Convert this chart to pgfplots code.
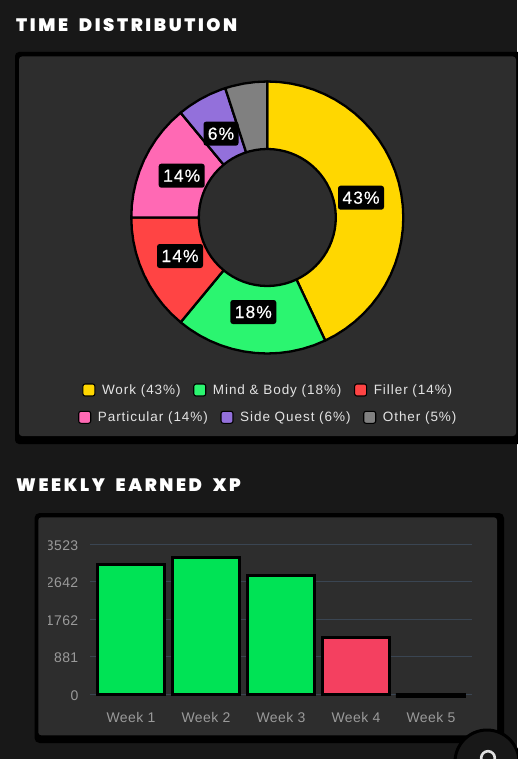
\documentclass[border=0pt]{standalone}
\usepackage{pgfplots}
\pgfplotsset{compat=1.18}
\usepackage{fontspec}
\setmainfont{Liberation Sans}
\newfontfamily\titlefont[LetterSpace=14.5,WordSpace=1.9]{Poppins Black}
\newfontfamily\legfont[LetterSpace=7]{Liberation Sans}
\newfontfamily\tickfont[LetterSpace=3]{Liberation Sans}
\newfontfamily\boxfont[LetterSpace=6,FakeBold=0.4]{Liberation Sans}
\definecolor{bg}{HTML}{181818}
\definecolor{panel}{HTML}{2D2D2D}
\definecolor{cwork}{HTML}{FFD700}
\definecolor{cmind}{HTML}{2BF570}
\definecolor{cfill}{HTML}{FF4444}
\definecolor{cpart}{HTML}{FF69B4}
\definecolor{cside}{HTML}{9370DB}
\definecolor{cother}{HTML}{808080}
\definecolor{bgreen}{HTML}{00E355}
\definecolor{bred}{HTML}{F44060}
\definecolor{gridc}{HTML}{3A4552}
\definecolor{ticktxt}{HTML}{9A9A9A}
\definecolor{legtxt}{HTML}{E4E4E4}
\pgfplotsset{
  donut/.style={
    at={(267.3pt,-217.5pt)},anchor=center,
    width=272pt,height=272pt,scale only axis,
    xmin=-136,xmax=136,ymin=-136,ymax=136,
    hide axis,clip=false,
    legend columns=3,
    legend cell align=left,
    legend style={draw=none,fill=none,inner sep=0pt,outer sep=0pt,anchor=center,
      text=legtxt,font=\legfont\fontsize{13.5}{15}\selectfont,
      /tikz/every even column/.append style={column sep=12.6pt},
      /tikz/every odd column/.append style={column sep=6.6pt},
      nodes={inner sep=0pt,outer sep=0pt}},
  },
  sector/.style={data cs=polar,draw=black,line width=2.3pt,line join=round,fill=#1,
    forget plot=false,
    legend image code/.code={
      \draw[black,line width=1.1pt,fill=#1,rounded corners=2.2pt] (0pt,-5.9pt) rectangle (12pt,6.1pt);}},
}
\newcommand\pct[2]{\node[fill=black,rounded corners=2.6pt,text=white,inner sep=0pt,
   minimum height=24pt,minimum width=#2,font=\boxfont\fontsize{17.5}{19}\selectfont] }
\begin{document}
\begin{tikzpicture}[x=1pt,y=1pt]
\path[use as bounding box] (0,0) rectangle (517,-759);
\fill[bg] (0,0) rectangle (517,-759);
% top panel
\fill[black,rounded corners=4pt] (15,-52) rectangle (530,-444);
\fill[panel,rounded corners=3pt] (19,-56.5) rectangle (516,-436);
% bottom panel
\fill[black,rounded corners=5pt] (34.5,-513) rectangle (504,-743);
\fill[panel,rounded corners=3pt] (38.3,-517.3) rectangle (497,-735.3);
% titles
\node[anchor=base west,inner sep=0pt,text=white,font=\titlefont\fontsize{18}{20}\selectfont] at (16,-31.5) {TIME DISTRIBUTION};
\node[anchor=base west,inner sep=0pt,text=white,font=\titlefont\fontsize{18}{20}\selectfont] at (16,-491.2) {WEEKLY EARNED XP};

\begin{axis}[donut,legend style={at={(axis cs:0,-172.5)}}]
\addplot[sector=cwork] coordinates {(90,136)(85,136)(80,136)(75,136)(70,136)(65,136)(60,136)(55,136)(50,136)(45,136)(40,136)(35,136)(30,136)(25,136)(20,136)(15,136)(10,136)(5,136)(0,136)(-5,136)(-10,136)(-15,136)(-20,136)(-25,136)(-30,136)(-35,136)(-40,136)(-45,136)(-50,136)(-55,136)(-60,136)(-64.8,136)
 (-64.8,68.5)(-60,68.5)(-55,68.5)(-50,68.5)(-45,68.5)(-40,68.5)(-35,68.5)(-30,68.5)(-25,68.5)(-20,68.5)(-15,68.5)(-10,68.5)(-5,68.5)(0,68.5)(5,68.5)(10,68.5)(15,68.5)(20,68.5)(25,68.5)(30,68.5)(35,68.5)(40,68.5)(45,68.5)(50,68.5)(55,68.5)(60,68.5)(65,68.5)(70,68.5)(75,68.5)(80,68.5)(85,68.5)(90,68.5)} -- cycle;
\addlegendentry{Work (43\%)}
\addplot[sector=cmind] coordinates {(-64.8,136)(-70,136)(-75,136)(-80,136)(-85,136)(-90,136)(-95,136)(-100,136)(-105,136)(-110,136)(-115,136)(-120,136)(-125,136)(-129.6,136)
 (-129.6,68.5)(-125,68.5)(-120,68.5)(-115,68.5)(-110,68.5)(-105,68.5)(-100,68.5)(-95,68.5)(-90,68.5)(-85,68.5)(-80,68.5)(-75,68.5)(-70,68.5)(-64.8,68.5)} -- cycle;
\addlegendentry{Mind \& Body (18\%)}
\addplot[sector=cfill] coordinates {(-129.6,136)(-135,136)(-140,136)(-145,136)(-150,136)(-155,136)(-160,136)(-165,136)(-170,136)(-175,136)(-180,136)
 (-180,68.5)(-175,68.5)(-170,68.5)(-165,68.5)(-160,68.5)(-155,68.5)(-150,68.5)(-145,68.5)(-140,68.5)(-135,68.5)(-129.6,68.5)} -- cycle;
\addlegendentry{Filler (14\%)}
\pct{}{46pt} at (axis cs:93.7,19.8) {43\%};
\pct{}{46pt} at (axis cs:-14,-94.5) {18\%};
\pct{}{46pt} at (axis cs:-87.3,-38.5) {14\%};
\end{axis}

\begin{axis}[donut,legend style={at={(axis cs:0,-199.8)}}]
\addplot[sector=cpart] coordinates {(180,136)(175,136)(170,136)(165,136)(160,136)(155,136)(150,136)(145,136)(140,136)(135,136)(129.6,136)
 (129.6,68.5)(135,68.5)(140,68.5)(145,68.5)(150,68.5)(155,68.5)(160,68.5)(165,68.5)(170,68.5)(175,68.5)(180,68.5)} -- cycle;
\addlegendentry{Particular (14\%)}
\addplot[sector=cside] coordinates {(129.6,136)(125,136)(120,136)(115,136)(110,136)(108,136)
 (108,68.5)(110,68.5)(115,68.5)(120,68.5)(125,68.5)(129.6,68.5)} -- cycle;
\addlegendentry{Side Quest (6\%)}
\addplot[sector=cother] coordinates {(108,136)(105,136)(100,136)(95,136)(90,136)
 (90,68.5)(95,68.5)(100,68.5)(105,68.5)(108,68.5)} -- cycle;
\addlegendentry{Other (5\%)}
\pct{}{46pt} at (axis cs:-85.6,41.8) {14\%};
\pct{}{35pt} at (axis cs:-46.3,83.8) {6\%};
\end{axis}

\begin{scope}
\clip (48.7,-520) rectangle (497,-735);
\begin{axis}[
  at={(90pt,-694.3pt)},anchor=south west,
  width=382pt,height=150pt,scale only axis,
  xmin=-0.547,xmax=4.547,ymin=0,ymax=3523,
  axis line style={draw=none},major tick length=0pt,
  xtick={0,1,2,3,4},xticklabels={Week 1,Week 2,Week 3,Week 4,Week 5},
  ytick={0,881,1762,2642,3523},
  yticklabels={0,881,1762,2642,3523},
  ymajorgrids,grid style={gridc,line width=1.2pt},
  clip=false,
  tick label style={text=ticktxt,font=\tickfont\fontsize{14}{16}\selectfont},
  xticklabel style={anchor=center,yshift=-23.2pt,inner sep=0pt,at={(0,0)}},
  yticklabel style={anchor=east,inner xsep=0pt,xshift=-11.5pt,yshift=-1pt},
]
\addplot[ybar,bar width=66.5pt,bar shift=0pt,fill=bgreen,draw=black,line width=3pt] coordinates {(0,3053)(1,3210)(2,2795)};
\addplot[ybar,bar width=66.5pt,bar shift=0pt,fill=bred,draw=black,line width=3pt] coordinates {(3,1339)};
\addplot[ybar,bar width=70pt,bar shift=0pt,fill=black,draw=black,line width=5.6pt,yshift=-1.3pt] coordinates {(4,0)};
\end{axis}
\end{scope}
% round button
\fill[bg,draw=black,line width=3pt] (487,-762) circle (32);
\draw[white!88!black,line width=2.6pt] (488,-758) circle (6.8);
\end{tikzpicture}
\end{document}
